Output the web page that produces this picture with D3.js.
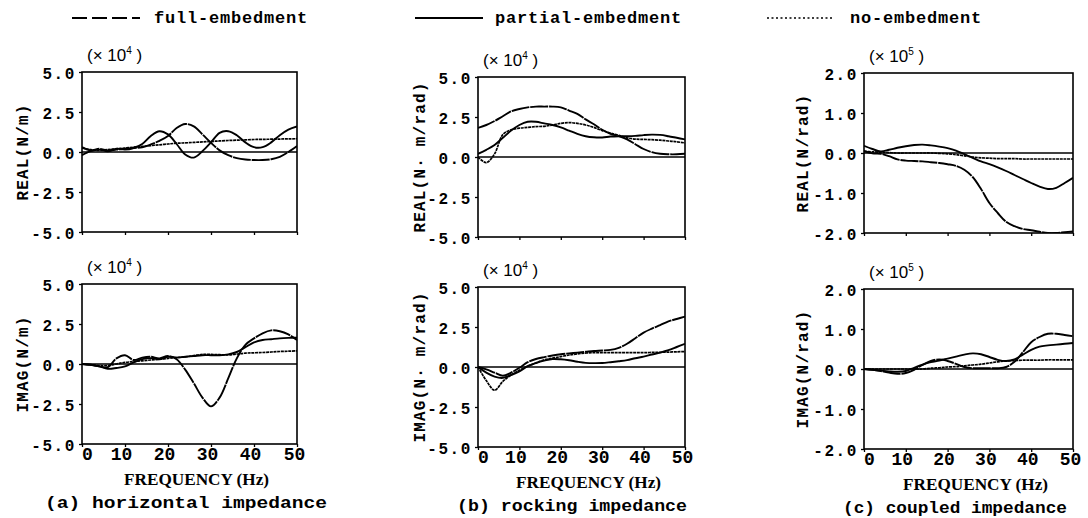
<!DOCTYPE html>
<html>
<head>
<meta charset="utf-8">
<script src="https://cdn.jsdelivr.net/npm/d3@7"></script>
<style>
  body { margin: 0; background: #fff; }
  svg { display: block; }
</style>
</head>
<body>
<svg id="chart" width="1088" height="518"></svg>
<script>
// frequency grid, Hz
const freq = [0, 2, 4, 6, 8, 10, 12, 14, 16, 18, 20, 22, 24, 26, 28, 30, 32, 34, 36, 38, 40, 42, 44, 46, 48, 50];

// (a) horizontal impedance, x10^4 N/m
const hReFull    = [0.3, 0.1, 0.2, 0.1, 0.15, 0.2, 0.25, 0.3, 0.47, 0.7, 1.0, 1.5, 1.75, 1.6, 1.1, 0.57, 0.1, -0.2, -0.38, -0.47, -0.5, -0.5, -0.45, -0.3, 0.0, 0.37];
const hRePartial = [-0.2, 0.05, 0.15, 0.05, 0.2, 0.15, 0.25, 0.5, 1.0, 1.3, 1.1, 0.5, -0.15, -0.35, 0.05, 0.6, 1.2, 1.3, 1.05, 0.6, 0.3, 0.3, 0.6, 1.05, 1.4, 1.6];
const hReNo      = [0.25, 0.15, 0.1, 0.15, 0.2, 0.25, 0.3, 0.35, 0.4, 0.45, 0.5, 0.55, 0.57, 0.6, 0.63, 0.66, 0.69, 0.72, 0.74, 0.76, 0.78, 0.79, 0.8, 0.81, 0.82, 0.83];
const hImFull    = [0, -0.05, -0.15, -0.2, 0.35, 0.55, 0.25, 0.4, 0.45, 0.35, 0.5, 0.3, -0.35, -1.2, -2.1, -2.65, -2.1, -0.9, 0.35, 1.2, 1.6, 1.92, 2.1, 2.05, 1.85, 1.5];
const hImPartial = [0, -0.05, -0.15, -0.3, -0.25, -0.15, 0.1, 0.3, 0.37, 0.3, 0.45, 0.4, 0.45, 0.5, 0.55, 0.55, 0.55, 0.6, 0.75, 1.05, 1.35, 1.5, 1.55, 1.6, 1.63, 1.65];
const hImNo      = [0, -0.05, -0.1, -0.1, 0, 0.1, 0.15, 0.2, 0.25, 0.3, 0.35, 0.4, 0.45, 0.52, 0.6, 0.6, 0.58, 0.57, 0.62, 0.68, 0.7, 0.72, 0.75, 0.78, 0.8, 0.82];

// (b) rocking impedance, x10^4 N.m/rad
const rReFull    = [1.82, 2.0, 2.25, 2.55, 2.85, 3.0, 3.1, 3.15, 3.15, 3.15, 3.1, 2.9, 2.7, 2.35, 2.05, 1.7, 1.45, 1.3, 1.1, 0.8, 0.5, 0.3, 0.2, 0.17, 0.17, 0.2];
const rRePartial = [0.2, 0.45, 0.75, 1.2, 1.65, 2.0, 2.2, 2.2, 2.1, 2.0, 1.85, 1.65, 1.45, 1.3, 1.23, 1.22, 1.28, 1.3, 1.3, 1.32, 1.37, 1.4, 1.38, 1.3, 1.2, 1.1];
const rReNo      = [0.0, -0.35, 0.2, 1.4, 1.7, 1.8, 1.85, 1.9, 1.92, 2.0, 2.1, 2.15, 2.1, 2.0, 1.85, 1.65, 1.5, 1.35, 1.2, 1.12, 1.1, 1.08, 1.05, 1.0, 0.95, 0.88];
const rImFull    = [0, -0.15, -0.35, -0.55, -0.35, -0.05, 0.3, 0.5, 0.62, 0.72, 0.8, 0.85, 0.9, 0.95, 1.0, 1.03, 1.07, 1.2, 1.45, 1.8, 2.15, 2.4, 2.62, 2.85, 3.0, 3.15];
const rImPartial = [0, -0.35, -0.6, -0.68, -0.5, -0.27, 0.05, 0.25, 0.4, 0.5, 0.48, 0.42, 0.33, 0.26, 0.24, 0.25, 0.3, 0.36, 0.43, 0.55, 0.65, 0.78, 0.9, 1.05, 1.25, 1.45];
const rImNo      = [0, -0.85, -1.45, -0.9, -0.5, -0.2, 0.05, 0.25, 0.45, 0.55, 0.65, 0.75, 0.82, 0.87, 0.9, 0.9, 0.9, 0.9, 0.9, 0.9, 0.9, 0.91, 0.92, 0.93, 0.95, 0.96];

// (c) coupled impedance, x10^5 N/rad
const cReFull    = [0.05, -0.01, -0.02, -0.08, -0.16, -0.19, -0.2, -0.21, -0.23, -0.25, -0.28, -0.32, -0.42, -0.6, -0.9, -1.25, -1.5, -1.72, -1.83, -1.9, -1.93, -1.97, -2.0, -2.0, -1.98, -1.96];
const cRePartial = [0.18, 0.1, 0.04, 0.08, 0.13, 0.17, 0.2, 0.21, 0.19, 0.16, 0.12, 0.06, -0.03, -0.12, -0.21, -0.28, -0.36, -0.45, -0.55, -0.65, -0.75, -0.84, -0.9, -0.87, -0.75, -0.62];
const cReNo      = [0.04, 0.03, 0.02, 0.01, 0, 0, 0, 0, 0, -0.01, -0.02, -0.04, -0.07, -0.1, -0.12, -0.13, -0.14, -0.14, -0.14, -0.15, -0.15, -0.15, -0.15, -0.15, -0.15, -0.15];
const cImFull    = [0, -0.02, -0.05, -0.09, -0.12, -0.1, -0.02, 0.1, 0.2, 0.24, 0.2, 0.13, 0.05, 0.02, 0.02, 0.02, 0.02, 0.05, 0.18, 0.42, 0.67, 0.8, 0.88, 0.88, 0.85, 0.82];
const cImPartial = [0, -0.02, -0.04, -0.06, -0.07, -0.05, 0.03, 0.11, 0.17, 0.21, 0.26, 0.31, 0.36, 0.39, 0.37, 0.3, 0.23, 0.2, 0.24, 0.36, 0.48, 0.56, 0.59, 0.61, 0.63, 0.65];
const cImNo      = [0, 0, 0, 0, 0, 0, 0, 0, 0.02, 0.03, 0.05, 0.06, 0.08, 0.1, 0.12, 0.15, 0.18, 0.2, 0.21, 0.22, 0.22, 0.22, 0.23, 0.23, 0.23, 0.23];

const xTicks = [0, 10, 20, 30, 40, 50];
const yTicks5 = [-5, -2.5, 0, 2.5, 5];
const yTicks2 = [-2, -1, 0, 1, 2];
const legendNames = ["full-embedment", "partial-embedment", "no-embedment"];
const captions = ["(a) horizontal impedance", "(b) rocking impedance", "(c) coupled impedance"];
const reLabels = ["REAL(N/m)", "REAL(N\u00b7 m/rad)", "REAL(N/rad)"];
const imLabels = ["IMAG(N/m)", "IMAG(N\u00b7 m/rad)", "IMAG(N/rad)"];
const exponents = ["4", "4", "5"];

// layout (capX/capW: caption centre and width)
const cols = [{ l: 82, r: 297, yl: 22, capX: 186, capW: 282 },
              { l: 478, r: 685, yl: 419, capX: 572, capW: 230 },
              { l: 864, r: 1073, yl: 802, capX: 955, capW: 224 }];
const topRow = [72, 77, 73], botRow = [284, 287, 289], ph = 160;

// the scan merges the dashes, so keep the gaps in the plots very short
const styles = [
  { dash: "18,0.9", w: 1.9 },  // full
  { dash: null, w: 1.9 },      // partial
  { dash: "3,0.7", w: 1.7 }    // no
];

const svg = d3.select("#chart");
const mono = "'Liberation Mono', 'DejaVu Sans Mono', monospace";
const fmt = v => d3.format(".1f")(v).replace("\u2212", "-");

const panels = [
  { col: 0, top: topRow[0], ticks: yTicks5, label: reLabels[0], series: [hReFull, hRePartial, hReNo], bottom: false },
  { col: 1, top: topRow[1], ticks: yTicks5, label: reLabels[1], series: [rReFull, rRePartial, rReNo], bottom: false },
  { col: 2, top: topRow[2], ticks: yTicks2, label: reLabels[2], series: [cReFull, cRePartial, cReNo], bottom: false },
  { col: 0, top: botRow[0], ticks: yTicks5, label: imLabels[0], series: [hImFull, hImPartial, hImNo], bottom: true },
  { col: 1, top: botRow[1], ticks: yTicks5, label: imLabels[1], series: [rImFull, rImPartial, rImNo], bottom: true },
  { col: 2, top: botRow[2], ticks: yTicks2, label: imLabels[2], series: [cImFull, cImPartial, cImNo], bottom: true }
];

panels.forEach(function(p, i) {
  const c = cols[p.col];
  const x = d3.scaleLinear().domain([0, 50]).range([c.l, c.r]);
  const y = d3.scaleLinear().domain(d3.extent(p.ticks)).range([p.top + ph, p.top]);
  const g = svg.append("g");

  // clip
  g.append("clipPath").attr("id", "clip" + i)
    .append("rect").attr("x", c.l).attr("y", p.top).attr("width", c.r - c.l).attr("height", ph);

  // y axis
  const ya = g.append("g").attr("transform", "translate(" + c.l + ",0)")
    .call(d3.axisLeft(y).tickValues(p.ticks).tickSize(3).tickPadding(3).tickFormat(fmt));
  ya.select(".domain").remove();
  ya.selectAll("line").attr("stroke", "#000").attr("stroke-width", 1.3);
  ya.selectAll("text").attr("font-family", mono).attr("font-weight", "bold")
    .attr("font-size", 16).attr("letter-spacing", 1.6).attr("fill", "#000").attr("dy", "0.4em");

  // x axis ticks (labels on bottom row only)
  const xa = g.append("g").attr("transform", "translate(0," + (p.top + ph) + ")")
    .call(d3.axisBottom(x).tickValues(xTicks).tickSize(3).tickFormat(p.bottom ? d3.format("d") : ""));
  xa.select(".domain").remove();
  xa.selectAll("line").attr("stroke", "#000").attr("stroke-width", 1.3);
  xa.selectAll("text").attr("font-family", mono).attr("font-weight", "bold")
    .attr("font-size", 18).attr("fill", "#000").attr("dy", "0.55em")
    .attr("dx", d => d === 0 ? 5 : (d === 50 ? -3 : -4));

  // frame
  g.append("rect").attr("x", c.l).attr("y", p.top).attr("width", c.r - c.l).attr("height", ph)
    .attr("fill", "none").attr("stroke", "#000").attr("stroke-width", 1.6);

  // zero line
  g.append("line").attr("x1", c.l).attr("x2", c.r).attr("y1", y(0)).attr("y2", y(0))
    .attr("stroke", "#000").attr("stroke-width", 1.6);

  // curves
  const line = d3.line().x((d, k) => x(freq[k])).y(d => y(d)).curve(d3.curveCatmullRom.alpha(0.5));
  p.series.forEach(function(s, k) {
    g.append("path").datum(s).attr("d", line)
      .attr("clip-path", "url(#clip" + i + ")")
      .attr("fill", "none").attr("stroke", "#000")
      .attr("stroke-width", styles[k].w)
      .attr("stroke-dasharray", styles[k].dash)
      .attr("stroke-linejoin", "round");
  });

  // rotated y label
  g.append("text").attr("transform", "translate(" + c.yl + "," + (p.top + ph / 2) + ") rotate(-90)")
    .attr("text-anchor", "middle").attr("dy", "0.35em")
    .attr("font-family", mono).attr("font-weight", "bold").attr("font-size", 16)
    .attr("letter-spacing", 1.2).text(p.label);

  // multiplier
  const m = g.append("text").attr("x", c.l + 5).attr("y", p.top - 11)
    .attr("font-family", "'Liberation Sans', Arial, sans-serif").attr("font-size", 17);
  m.append("tspan").text("(\u00d7 10");
  m.append("tspan").attr("font-size", 10).attr("dy", -7).text(exponents[p.col]);
  m.append("tspan").attr("dy", 7).text("  )");

  if (p.bottom) {
    const cx = (c.l + c.r) / 2;
    g.append("text").attr("x", cx + 7).attr("y", p.top + ph + 41).attr("text-anchor", "middle")
      .attr("font-family", "'Liberation Serif', serif").attr("font-weight", "bold").attr("font-size", 17)
      .attr("textLength", 145).attr("lengthAdjust", "spacingAndGlyphs").text("FREQUENCY (Hz)");
    g.append("text").attr("x", c.capX).attr("y", p.top + ph + 64).attr("text-anchor", "middle")
      .attr("font-family", mono).attr("font-weight", "bold").attr("font-size", 17)
      .attr("textLength", c.capW).attr("lengthAdjust", "spacingAndGlyphs").text(captions[p.col]);
  }
});

// legend
const legendX = [{ x1: 72, x2: 140, tx: 154, dash: "15,5", w: 1.8 },
                 { x1: 415, x2: 483, tx: 495, dash: null, w: 1.8 },
                 { x1: 767, x2: 832, tx: 850, dash: "2,2.5", w: 1.3 }];
legendNames.forEach(function(name, k) {
  const L = legendX[k];
  svg.append("line").attr("x1", L.x1).attr("x2", L.x2).attr("y1", 18).attr("y2", 18)
    .attr("stroke", "#000").attr("stroke-width", L.w).attr("stroke-dasharray", L.dash);
  svg.append("text").attr("x", L.tx).attr("y", 23)
    .attr("font-family", mono).attr("font-weight", "bold").attr("font-size", 17)
    .attr("letter-spacing", 0.8).text(name);
});
</script>
</body>
</html>
